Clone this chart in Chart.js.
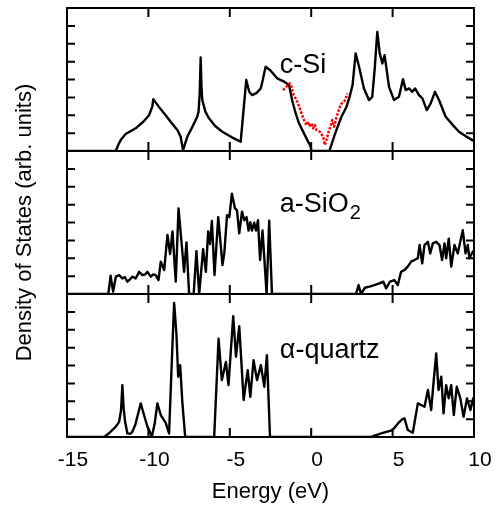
<!DOCTYPE html>
<html>
<head>
<meta charset="utf-8">
<title>Density of States</title>
<script src="https://cdn.jsdelivr.net/npm/chart.js@4.4.1/dist/chart.umd.min.js"></script>
<style>
  html, body { margin: 0; padding: 0; background: #fff; }
  canvas { display: block; }
</style>
</head>
<body>
<canvas id="dosChart" width="500" height="508"></canvas>
<script>
// c-Si, full calculation
const siEnergy = [-15, -12.0, -11.85, -11.7, -11.4, -10.78, -10.3, -9.96, -9.76, -9.70, -9.3, -8.94, -8.6, -8.22, -8.02, -7.87,
  -7.61, -7.3, -7.0, -6.92, -6.85, -6.79, -6.74, -6.69, -6.5, -6.28, -5.9, -5.46, -4.9, -4.33, -3.99, -3.80, -3.62, -3.35,
  -3.10, -3.0, -2.8, -2.5, -2.08, -1.70, -1.36, -1.16, -0.95, -0.75, -0.39, -0.03, 0.0, 1.12, 1.45, 1.86, 2.17, 2.35, 2.54,
  2.73, 2.94, 3.24, 3.55, 3.75, 3.9, 4.06, 4.21, 4.37, 4.51, 4.78, 5.09, 5.39, 5.64, 5.80, 6.01, 6.21, 6.38, 6.62, 6.83,
  7.1, 7.34, 7.60, 7.85, 8.26, 8.7, 9.08, 9.5, 9.90, 10];
const siDos = [0, 0, 0.35, 0.61, 0.95, 1.27, 1.65, 2.0, 2.48, 2.9, 2.4, 2.0, 1.6, 1.17, 0.8, 0.05,
  0.8, 1.35, 1.92, 2.2, 3.2, 5.23, 3.6, 2.85, 2.2, 1.83, 1.4, 1.08, 0.78, 0.52, 3.97, 3.3, 3.13, 3.25,
  3.5, 3.87, 4.71, 4.5, 4.06, 3.9, 3.69, 2.8, 2.1, 1.55, 0.89, 0.24, 0, 0, 0.93, 1.92, 2.48, 3.0, 3.69,
  5.46, 4.71, 3.50, 2.85, 3.03, 4.6, 6.66, 5.46, 4.9, 5.36, 3.59, 2.85, 3.03, 4.02, 3.41, 3.5, 3.31, 3.5, 3.13, 2.94,
  2.29, 2.66, 3.31, 2.85, 1.92, 1.45, 1.08, 0.82, 0.61, 0.55];

// c-Si, comparison curve around the gap (red dots)
const siRefEnergy = [-1.73, -1.52, -1.32, -1.21, -1.11, -1.01, -0.81, -0.70, -0.60, -0.44, -0.29, -0.19, -0.09, 0.02, 0.12,
  0.22, 0.33, 0.53, 0.73, 0.84, 0.94, 1.04, 1.21, 1.29, 1.41, 1.56, 1.76, 1.86, 2.07, 2.23];
const siRefDos = [3.41, 3.60, 3.79, 3.60, 3.22, 3.04, 2.67, 2.39, 2.11, 1.73, 1.45, 1.64, 1.36, 1.55, 1.27,
  1.45, 1.17, 1.08, 0.80, 0.34, 0.62, 0.99, 1.45, 1.73, 1.36, 1.92, 2.46, 2.65, 2.83, 3.22];

// amorphous SiO2
const sio2Energy = [-15, -12.5, -12.46, -12.32, -12.17, -12.0, -11.8, -11.6, -11.45, -11.29, -11.1, -10.98, -10.78, -10.57,
  -10.37, -10.2, -10.06, -9.86, -9.7, -9.55, -9.38, -9.24, -9.03, -8.83, -8.67, -8.52, -8.32, -8.15, -7.95, -7.81, -7.66,
  -7.5, -7.22, -7.05, -6.88, -6.64, -6.47, -6.33, -6.22, -6.1, -5.94, -5.71, -5.45, -5.34, -5.17, -5.03, -4.87, -4.68,
  -4.56, -4.42, -4.25, -4.11, -3.97, -3.85, -3.74, -3.64, -3.5, -3.39, -3.27, -3.14, -2.99, -2.74, -2.58, -2.41, 2.75,
  2.91, 3.06, 3.3, 3.57, 3.88, 4.19, 4.43, 4.6, 4.84, 5.11, 5.32, 5.52, 5.73, 5.93, 6.14, 6.34, 6.55, 6.66, 6.82, 6.96,
  7.17, 7.31, 7.47, 7.68, 7.88, 8.04, 8.19, 8.29, 8.45, 8.6, 8.8, 9.0, 9.31, 9.48, 9.62, 9.72, 9.93, 10];
const sio2Dos = [0, 0, 0.04, 1.02, 0.13, 0.97, 1.06, 0.87, 0.95, 0.69, 0.85, 0.97, 0.87, 1.24,
  1.06, 1.1, 1.24, 0.97, 1.1, 1.06, 0.78, 1.81, 1.34, 3.31, 2.23, 3.5, 0.69, 4.79, 2.74, 1.24, 2.89,
  0, 0, 2.4, 0, 2.51, 1.24, 3.5, 2.79, 4.08, 1.06, 4.3, 1.62, 2.27, 4.41, 4.3, 5.61, 4.79,
  4.69, 3.39, 4.6, 4.13, 4.3, 3.55, 4.02, 3.55, 3.99, 3.55, 4.13, 1.9, 3.55, 0, 4.1, 0, 0,
  0.5, 0, 0.35, 0.41, 0.5, 0.6, 0.69, 0.32, 0.69, 0.78, 0.5, 1.24, 1.34, 1.53, 1.81, 1.9, 2.0, 2.74, 1.71, 2.74,
  2.92, 2.27, 2.83, 2.92, 2.74, 1.9, 2.83, 2.0, 3.1, 1.53, 2.74, 2.27, 3.57, 2.27, 2.74, 2.0, 2.38, 2.3];

// alpha-quartz
const quartzEnergy = [-15, -12.72, -12.42, -12.0, -11.8, -11.68, -11.6, -11.52, -11.43, -11.29, -11.1, -10.98, -10.8,
  -10.68, -10.47, -10.27, -10.06, -9.96, -9.79, -9.61, -9.45, -9.24, -8.93, -8.73, -8.59, -8.42, -8.28, -8.17, -8.05,
  -7.91, -7.74, -5.96, -5.69, -5.49, -5.24, -5.08, -4.79, -4.62, -4.42, -4.15, -3.9, -3.74, -3.54, -3.33, -3.09, -2.88,
  -2.72, -2.53, 3.68, 4.3, 5.0, 5.42, 5.6, 5.73, 5.93, 6.24, 6.55, 6.75, 6.96, 7.17, 7.37, 7.51, 7.68, 7.82, 7.99, 8.13,
  8.29, 8.45, 8.6, 8.76, 8.94, 9.16, 9.36, 9.57, 9.78, 9.95, 10];
const quartzDos = [0, 0, 0.21, 0.58, 0.85, 1.5, 2.9, 1.6, 0.85, 0.2, 0.18, 0.3, 0.7,
  1.13, 1.88, 1.23, 0.58, 0.39, 0.02, 0.77, 1.88, 1.23, 0.77, 0.2, 3.56, 7.5, 5.79, 3.37, 4.02,
  1.88, 0, 0, 5.5, 3.18, 4.2, 2.9, 6.76, 4.49, 6.2, 2.07, 3.74, 2.25, 4.3, 3.18, 4.02, 2.81,
  4.58, 0, 0, 0.2, 0.39, 0.85, 1.0, 1.04, 0.39, 0.24, 1.88, 1.79, 1.69, 2.63, 1.51, 3.0, 4.68, 2.63, 3.37, 1.32,
  2.9, 2.16, 2.9, 1.23, 2.81, 2.16, 1.13, 2.16, 1.51, 2.16, 2.0];

const energyTicks = [-15, -10, -5, 0, 5, 10];
const panelIds = ['ySi', 'ySiO2', 'yQ'];

const FONT = '"Liberation Sans", Arial, Helvetica, sans-serif';

function toPoints(xs, ys) {
  return xs.map((x, i) => ({ x: x, y: ys[i] }));
}

// frame, inward tick marks and material names for each panel
const panelFrame = {
  id: 'panelFrame',
  afterDatasetsDraw(chart) {
    const { ctx, chartArea, scales } = chart;
    const xs = scales.x;
    ctx.save();
    ctx.strokeStyle = '#000';
    ctx.lineWidth = 2;
    panelIds.forEach(id => {
      const s = scales[id];
      ctx.strokeRect(chartArea.left, s.top, chartArea.right - chartArea.left, s.bottom - s.top);
      ctx.beginPath();
      energyTicks.forEach(v => {
        if (v <= xs.min || v >= xs.max) return;
        const px = xs.getPixelForValue(v);
        ctx.moveTo(px, s.top);
        ctx.lineTo(px, s.top + 9);
        ctx.moveTo(px, s.bottom);
        ctx.lineTo(px, s.bottom - 9);
      });
      s.ticks.forEach(t => {
        if (t.value <= s.min || t.value >= s.max) return;
        const py = s.getPixelForValue(t.value);
        ctx.moveTo(chartArea.left, py);
        ctx.lineTo(chartArea.left + 8, py);
        ctx.moveTo(chartArea.right, py);
        ctx.lineTo(chartArea.right - 8, py);
      });
      ctx.stroke();
    });

    ctx.fillStyle = '#000';
    ctx.textAlign = 'left';
    ctx.textBaseline = 'alphabetic';
    ctx.font = '27px ' + FONT;
    const lx = xs.getPixelForValue(-1.93);
    ctx.fillText('c-Si', lx, scales.ySi.getPixelForValue(4.36));

    const ay = scales.ySiO2.getPixelForValue(4.6);
    ctx.fillText('a-SiO', lx, ay);
    const w = ctx.measureText('a-SiO').width;
    ctx.font = '20px ' + FONT;
    ctx.fillText('2', lx + w + 1, ay + 7);

    ctx.font = '27px ' + FONT;
    ctx.fillText('\u03b1-quartz', lx, scales.yQ.getPixelForValue(4.4));
    ctx.restore();
  }
};

function panelAxis() {
  return {
    type: 'linear',
    position: 'left',
    stack: 'dos',
    stackWeight: 1,
    min: 0,
    max: 8,
    ticks: { display: false, stepSize: 1 },
    grid: { display: false, drawTicks: false },
    border: { display: false },
    afterFit(scale) { scale.width = 27; }
  };
}

function curve(xs, ys, axisId) {
  return {
    data: toPoints(xs, ys),
    yAxisID: axisId,
    borderColor: '#000',
    borderWidth: 2.4,
    pointRadius: 0
  };
}

const ctx = document.getElementById('dosChart').getContext('2d');
new Chart(ctx, {
  type: 'line',
  data: {
    datasets: [
      {
        data: toPoints(siRefEnergy, siRefDos),
        yAxisID: 'ySi',
        borderColor: '#ff0000',
        borderWidth: 2.5,
        borderDash: [2.5, 1.5],
        pointRadius: 0
      },
      curve(siEnergy, siDos, 'ySi'),
      curve(sio2Energy, sio2Dos, 'ySiO2'),
      curve(quartzEnergy, quartzDos, 'yQ')
    ]
  },
  options: {
    responsive: false,
    animation: false,
    devicePixelRatio: 1,
    layout: { padding: { top: 8, right: 26, bottom: 2, left: 0 } },
    plugins: { legend: { display: false }, tooltip: { enabled: false } },
    elements: { line: { tension: 0, borderJoinStyle: 'round' } },
    scales: {
      x: {
        type: 'linear',
        position: 'bottom',
        min: -15,
        max: 10,
        afterBuildTicks(scale) { scale.ticks = energyTicks.map(v => ({ value: v })); },
        ticks: { color: '#000', padding: 11, labelOffset: 6, maxRotation: 0, font: { family: FONT, size: 21 } },
        grid: { display: false, drawTicks: false },
        border: { display: false },
        title: {
          display: true,
          text: 'Energy (eV)',
          color: '#000',
          padding: { top: 0, bottom: 1 },
          font: { family: FONT, size: 22 }
        },
        afterFit(scale) { scale.height = 69; }
      },
      yQ: panelAxis(),
      ySiO2: panelAxis(),
      ySi: panelAxis(),
      yTitle: {
        type: 'linear',
        position: 'left',
        weight: 10,
        min: 0,
        max: 1,
        ticks: { display: false },
        grid: { display: false, drawTicks: false },
        border: { display: false },
        title: {
          display: true,
          text: 'Density of States (arb. units)',
          color: '#000',
          padding: { top: 12, bottom: 0 },
          font: { family: FONT, size: 22 }
        },
        afterFit(scale) { scale.width = 40; }
      }
    }
  },
  plugins: [panelFrame]
});
</script>
</body>
</html>
